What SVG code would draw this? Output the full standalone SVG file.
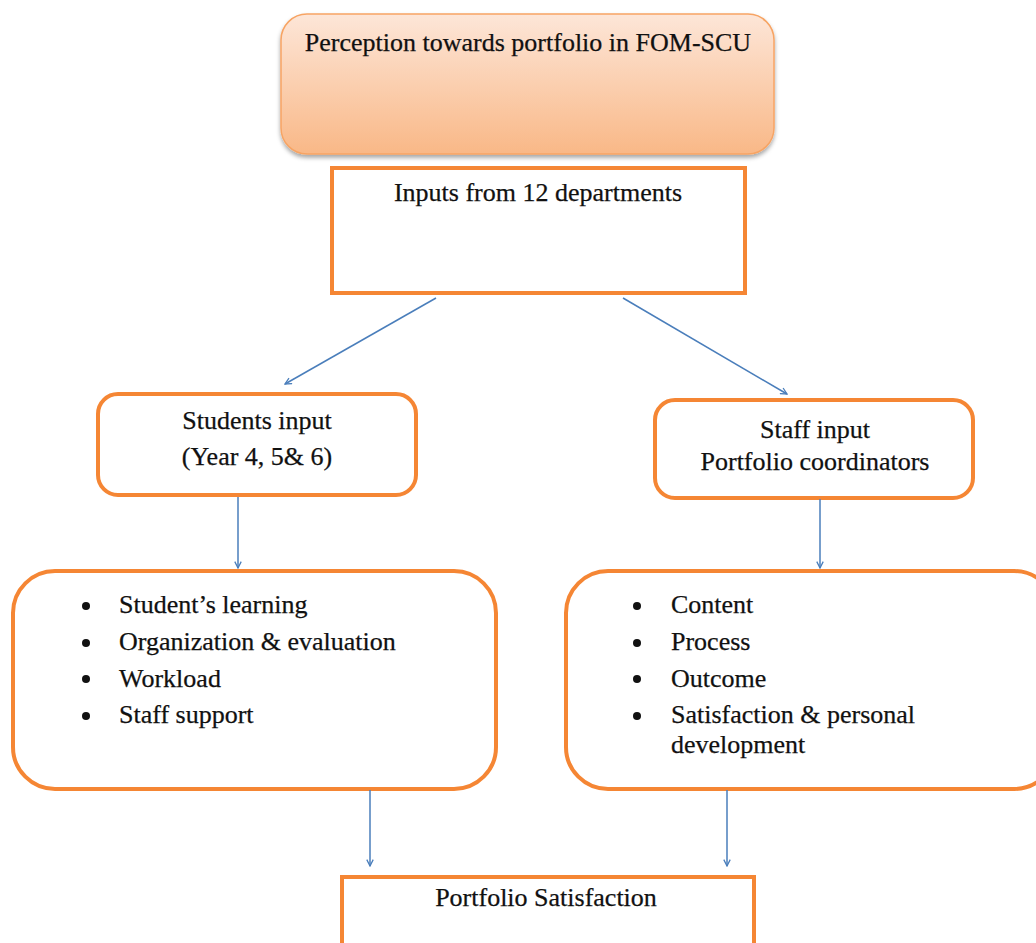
<svg xmlns="http://www.w3.org/2000/svg" width="1036" height="943" viewBox="0 0 1036 943">
<defs>
<linearGradient id="peach" x1="0" y1="0" x2="0" y2="1">
<stop offset="0" stop-color="#fde6d8"/>
<stop offset="1" stop-color="#f9b887"/>
</linearGradient>
<filter id="shadow" x="-5%" y="-5%" width="110%" height="120%">
<feDropShadow dx="0" dy="3" stdDeviation="2" flood-color="#000" flood-opacity="0.35"/>
</filter>
<marker id="arr" viewBox="0 0 10 10" refX="9" refY="5" markerWidth="8" markerHeight="8" orient="auto" markerUnits="userSpaceOnUse">
<path d="M1,1 L9,5 L1,9" fill="none" stroke="#4a7ebb" stroke-width="1.6"/>
</marker>
<style>
.box{fill:#fff;stroke:#f58634;stroke-width:4}
text{font-family:'Liberation Serif','Tinos','Times New Roman','DejaVu Serif',serif;font-size:26px;fill:#111;stroke:#111;stroke-width:0.25}
.c{text-anchor:middle}
.conn line{stroke:#4a7ebb;stroke-width:1.5;marker-end:url(#arr)}
.dot{fill:#111}
</style>
</defs>
<rect width="1036" height="943" fill="#fff"/>
<g id="perception">
<rect x="281" y="14" width="493" height="140" rx="26" fill="url(#peach)" stroke="#f7a464" stroke-width="1.5" filter="url(#shadow)"/>
<text class="c" x="528" y="51">Perception towards portfolio in FOM-SCU</text>
</g>
<g id="inputs">
<rect class="box" x="332" y="168" width="413" height="125"/>
<text class="c" x="538" y="201">Inputs from 12 departments</text>
</g>
<g id="students">
<rect class="box" x="98" y="394" width="318" height="101" rx="20"/>
<text class="c" x="257" y="429">Students input</text>
<text class="c" x="257" y="465">(Year 4, 5&amp; 6)</text>
</g>
<g id="staff">
<rect class="box" x="655" y="400" width="318" height="98" rx="20"/>
<text class="c" x="815" y="438">Staff input</text>
<text class="c" x="815" y="470">Portfolio coordinators</text>
</g>
<g id="student-topics">
<rect class="box" x="13" y="571" width="483" height="218" rx="42"/>
<circle class="dot" cx="86" cy="606" r="4"/><text x="119" y="613">Student’s learning</text>
<circle class="dot" cx="86" cy="643" r="4"/><text x="119" y="650">Organization &amp; evaluation</text>
<circle class="dot" cx="86" cy="679" r="4"/><text x="119" y="687">Workload</text>
<circle class="dot" cx="86" cy="716" r="4"/><text x="119" y="723">Staff support</text>
</g>
<g id="staff-topics">
<rect class="box" x="566" y="571" width="490" height="218" rx="42"/>
<circle class="dot" cx="637" cy="606" r="4"/><text x="671" y="613">Content</text>
<circle class="dot" cx="637" cy="643" r="4"/><text x="671" y="650">Process</text>
<circle class="dot" cx="637" cy="679" r="4"/><text x="671" y="687">Outcome</text>
<circle class="dot" cx="637" cy="716" r="4"/><text x="671" y="723">Satisfaction &amp; personal</text>
<text x="671" y="753">development</text>
</g>
<g id="satisfaction">
<rect class="box" x="342" y="877" width="412" height="90"/>
<text class="c" x="546" y="906">Portfolio Satisfaction</text>
</g>
<g id="connectors" class="conn">
<line x1="436" y1="298" x2="285" y2="384"/>
<line x1="623" y1="298" x2="787" y2="394"/>
<line x1="238" y1="497" x2="238" y2="568"/>
<line x1="820" y1="499" x2="820" y2="568"/>
<line x1="370" y1="790" x2="370" y2="866"/>
<line x1="727" y1="790" x2="727" y2="866"/>
</g>
</svg>
